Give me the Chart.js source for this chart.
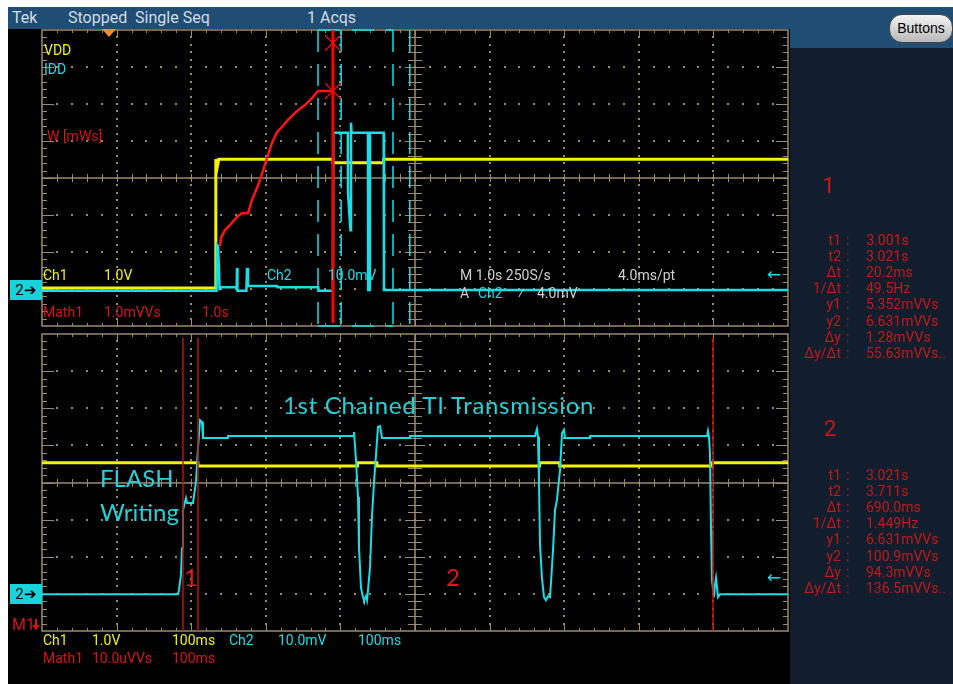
<!DOCTYPE html>
<html>
<head>
<meta charset="utf-8">
<script src="https://cdn.jsdelivr.net/npm/chart.js@4.4.1/dist/chart.umd.min.js"></script>
<style>
html, body { margin: 0; padding: 0; background: #fff; }
#scope { position: relative; width: 953px; height: 684px; overflow: hidden; background: #fff; }
#screen { position: absolute; left: 8px; top: 7px; width: 945px; height: 677px; background: #000; }
#header { position: absolute; left: 8px; top: 7px; width: 945px; height: 22px; background: #1f4d74; }
#side { position: absolute; left: 790px; top: 29px; width: 163px; height: 655px; background: #121e2d; }
#sidehead { position: absolute; left: 790px; top: 29px; width: 163px; height: 19px; background: #1f4d74; }
canvas { position: absolute; }
.t { position: absolute; white-space: nowrap; line-height: 1; font-family: Roboto, 'DejaVu Sans', sans-serif; font-size: 14px; }
.hd { color: #d5dce3; font-size: 16px; }
.y { color: #f2f200; }
.c { color: #18dde6; }
.r { color: #d81414; }
.g { color: #d0d0d0; }
.m { color: #c41818; }
.note { position: absolute; white-space: nowrap; line-height: 1; font-family: Lato, 'Open Sans', sans-serif; font-size: 24px; color: #26cfd6; }
.big { position: absolute; line-height: 1; font-family: Lato, sans-serif; font-size: 24px; color: #e01818; }
.gnd { position: absolute; left: 10px; width: 32px; height: 20px; background: #19d3db; color: #000;
       font-family: Roboto, sans-serif; font-size: 15px; line-height: 20px; text-align: center; }
#btn { position: absolute; left: 889px; top: 14px; width: 62px; height: 27px; border-radius: 13px;
       background: linear-gradient(#f4f4f4, #b8b8b8); border: 1px solid #444; color: #000;
       font-family: 'Liberation Sans', sans-serif; font-size: 14px; line-height: 27px; text-align: center; }
#trig { position: absolute; left: 102px; top: 29px; width: 0; height: 0;
        border-left: 7px solid transparent; border-right: 7px solid transparent; border-top: 8px solid #ff8a2a; }
#m1stem { position: absolute; left: 35px; top: 619px; width: 2px; height: 6px; background: #d81414; }
#m1head { position: absolute; left: 32px; top: 625px; width: 0; height: 0;
          border-left: 4px solid transparent; border-right: 4px solid transparent; border-top: 5px solid #d81414; }
.lab { position: absolute; width: 52px; text-align: right; }
</style>
</head>
<body>
<div id="scope">
  <div id="screen"></div>
  <div id="header"></div>
  <div id="side"></div>
  <div id="sidehead"></div>

  <div class="t hd" style="left:12px;top:10px">Tek</div>
  <div class="t hd" style="left:68px;top:10px">Stopped&nbsp; Single Seq</div>
  <div class="t hd" style="left:307px;top:10px">1 Acqs</div>
  <div id="btn">Buttons</div>

  <canvas id="topPanel" width="752" height="302" style="left:39px;top:27px"></canvas>
  <canvas id="bottomPanel" width="752" height="303" style="left:39px;top:331px"></canvas>
  <div id="trig"></div>

  <!-- top panel labels -->
  <div class="t y" style="left:44px;top:43px">VDD</div>
  <div class="t c" style="left:44px;top:62px">IDD</div>
  <div class="t r" style="left:47px;top:129px">W [mWs]</div>
  <div class="t y" style="left:43px;top:268px">Ch1</div>
  <div class="t y" style="left:104px;top:268px">1.0V</div>
  <div class="t c" style="left:267px;top:268px">Ch2</div>
  <div class="t c" style="left:328px;top:268px">10.0mV</div>
  <div class="t r" style="left:43px;top:305px">Math1</div>
  <div class="t r" style="left:104px;top:305px">1.0mVVs</div>
  <div class="t r" style="left:202px;top:305px">1.0s</div>
  <div class="t g" style="left:460px;top:268px">M 1.0s 250S/s</div>
  <div class="t g" style="left:618px;top:268px">4.0ms/pt</div>
  <div class="t g" style="left:460px;top:286px">A</div>
  <div class="t c" style="left:478px;top:286px">Ch2</div>
  <div class="t g" style="left:518px;top:286px">⁄</div>
  <div class="t g" style="left:537px;top:286px">4.0mV</div>
  <div class="t c" style="left:767px;top:266px;font-size:17px">←</div>

  <!-- bottom panel annotations -->
  <div class="note" style="left:283px;top:393px;letter-spacing:0.7px">1st Chained TI Transmission</div>
  <div class="note" style="left:100px;top:466px">FLASH</div>
  <div class="note" style="left:100px;top:500px">Writing</div>
  <div class="big" style="left:184px;top:565px">1</div>
  <div class="big" style="left:446px;top:565px">2</div>
  <div class="t c" style="left:767px;top:569px;font-size:17px">←</div>

  <div class="gnd" style="top:280px">2➔</div>
  <div class="gnd" style="top:584px">2➔</div>
  <div class="t r" style="left:12px;top:617px;font-size:16px">M1</div>
  <div id="m1stem"></div>
  <div id="m1head"></div>

  <!-- bottom readout -->
  <div class="t y" style="left:43px;top:633px">Ch1</div>
  <div class="t y" style="left:92px;top:633px">1.0V</div>
  <div class="t y" style="left:172px;top:633px">100ms</div>
  <div class="t c" style="left:229px;top:633px">Ch2</div>
  <div class="t c" style="left:278px;top:633px">10.0mV</div>
  <div class="t c" style="left:358px;top:633px">100ms</div>
  <div class="t r" style="left:43px;top:651px">Math1</div>
  <div class="t r" style="left:92px;top:651px">10.0uVVs</div>
  <div class="t r" style="left:172px;top:651px">100ms</div>

  <!-- cursor readouts -->
  <div class="t m" style="left:822px;top:175px;font-size:22px">1</div>
  <div class="t m" style="left:824px;top:418px;font-size:22px">2</div>
  <div id="read1"></div>
  <div id="read2"></div>
</div>

<script>
// ---- top panel: 1.0 s/div, vertical values in divisions ----
const vddTopT = [0, 2.33, 2.33, 2.35, 2.37, 3.90, 3.90, 4.58, 4.58, 10];
const vddTopY = [-2.97, -2.97, 0.51, 0.30, 0.51, 0.51, 0.41, 0.41, 0.51, 0.51];

const iddTopT = [0, 2.34, 2.346, 2.359, 2.372, 2.38, 2.386, 2.61, 2.614, 2.62, 2.74, 2.748, 2.761, 3.15, 3.155,
  3.70, 3.705, 3.90, 3.905, 4.10, 4.102, 4.135, 4.142, 4.15, 4.37, 4.372, 4.395, 4.397, 4.58, 4.584, 10];
const iddTopY = [-3.05, -3.05, -1.81, -1.85, -2.43, -3.0, -2.95, -2.95, -2.43, -3.05, -3.05, -2.43, -2.92, -2.92, -2.95,
  -2.95, -3.05, -3.05, 1.22, 1.22, -0.41, -1.41, 1.49, 1.22, 1.22, -3.03, -3.03, 1.22, 1.22, -3.03, -3.03];

const mathTopT = [2.386, 2.399, 2.453, 2.520, 2.614, 2.681, 2.761, 2.815, 2.882, 2.922, 3.016, 3.083, 3.150,
  3.217, 3.298, 3.391, 3.525, 3.619, 3.700, 3.901];
const mathTopY = [-1.84, -1.62, -1.41, -1.27, -1.05, -0.95, -0.95, -0.59, -0.27, -0.05, 0.54, 0.95, 1.24,
  1.38, 1.57, 1.76, 1.97, 2.16, 2.35, 2.35];

const cursorTopT = 3.90;
const cursorMarkY = [3.65, 2.35];
const zoomMarkT = [3.70, 4.01, 4.705, 4.93];

// ---- bottom panel: 100 ms/div ----
const vddBotT = [0, 209, 209, 423, 423, 449, 449, 667, 667, 694, 694, 898, 898, 1000];
const vddBotY = [0.53, 0.53, 0.445, 0.445, 0.53, 0.53, 0.445, 0.445, 0.53, 0.53, 0.445, 0.445, 0.53, 0.53];

const iddBotT = [0, 182.3, 183.6, 186.3, 187.7, 189.0, 193.0, 194.4, 202.4, 206.4,
  209.1, 211.8, 214.5, 215.8, 249.3, 249.4, 416.9, 418.2, 420.9, 423.6,
  424.9, 427.6, 430.3, 431.6, 434.3, 435.7, 437.0, 439.7, 442.4, 445.0,
  447.7, 450.4, 453.1, 455.8, 493.3, 493.4, 660.9, 663.5, 664.9, 666.2,
  667.6, 670.2, 672.9, 675.6, 678.3, 681.0, 683.6, 685.0, 687.7, 690.3,
  694.4, 697.1, 699.7, 701.1, 734.6, 734.7,
  891.4, 892.7, 894.1, 895.4, 896.8, 898.1, 900.8, 902.1, 903.5, 906.2, 908.8, 1000];
const iddBotY = [-3.01, -3.01, -2.90, -2.49, -1.77, -0.74, -0.42, -0.55, -0.55, 0.01,
  0.93, 1.68, 1.63, 1.20, 1.20, 1.25, 1.25, 1.36, 0.61, -0.39,
  -1.74, -2.84, -3.09, -3.17, -3.06, -3.17, -2.90, -2.28, -0.88, -0.01,
  0.74, 1.50, 1.52, 1.20, 1.20, 1.25, 1.25, 1.44, 1.23, -0.01,
  -1.68, -2.57, -3.09, -3.17, -3.06, -3.09, -2.28, -1.82, -0.74, -0.47,
  0.34, 1.33, 1.42, 1.20, 1.20, 1.25,
  1.25, 1.39, 1.23, 0.80, -1.28, -2.63, -3.09, -2.76, -2.57, -3.09, -3.01, -3.01];

const cursorBotT = [189.0, 209.1, 899.5];

// ---- cursor readouts ----
const readLabels = ['t1', 't2', 'Δt', '1/Δt', 'y1', 'y2', 'Δy', 'Δy/Δt'];
const read1Values = ['3.001s', '3.021s', '20.2ms', '49.5Hz', '5.352mVVs', '6.631mVVs', '1.28mVVs', '55.63mVVs..'];
const read2Values = ['3.021s', '3.711s', '690.0ms', '1.449Hz', '6.631mVVs', '100.9mVVs', '94.3mVVs', '136.5mVVs..'];

const TAN = '#9a8b6c';
const YELLOW = '#f4f400';
const CYAN = '#14e0e8';

function pts(xs, ys) {
    return xs.map((x, i) => ({ x: x, y: ys[i] }));
}

function buatReadout(id, values, top) {
    const box = document.getElementById(id);
    values.forEach((v, i) => {
        const y = top + i * 16.1 - 7;
        box.innerHTML += `<div class="t m lab" style="left:789px;top:${y}px">${readLabels[i]}</div>` +
            `<div class="t m" style="left:846px;top:${y}px">:</div>` +
            `<div class="t m" style="left:866px;top:${y}px">${v}</div>`;
    });
}
buatReadout('read1', read1Values, 240);
buatReadout('read2', read2Values, 475);

// graticule drawn from the chart scales
const graticule = {
    id: 'graticule',
    beforeDatasetsDraw(chart) {
        const { ctx, chartArea: a, scales: { x, y } } = chart;
        const step = (x.max - x.min) / 10;
        const px = v => Math.round(x.getPixelForValue(v));
        const py = v => Math.round(y.getPixelForValue(v));
        ctx.save();
        ctx.fillStyle = TAN;
        ctx.strokeStyle = TAN;
        // dotted grid
        for (let i = 1; i < 10; i++) {
            if (i === 5) continue;
            const gx = px(x.min + i * step);
            for (let k = 1; k < 40; k++) ctx.fillRect(gx - 1, py(-4 + k * 0.2) - 1, 2, 2);
        }
        for (let j = -3; j <= 3; j++) {
            if (j === 0) continue;
            const gy = py(j);
            for (let k = 1; k < 50; k++) ctx.fillRect(px(x.min + k * step / 5) - 1, gy - 1, 2, 2);
        }
        ctx.lineWidth = 1.5;
        ctx.beginPath();
        // border
        ctx.rect(a.left, a.top, a.right - a.left, a.bottom - a.top);
        // centre lines
        const cx = px(x.min + 5 * step), cy = py(0);
        ctx.moveTo(a.left, cy); ctx.lineTo(a.right, cy);
        ctx.moveTo(cx, a.top); ctx.lineTo(cx, a.bottom);
        ctx.stroke();
        ctx.lineWidth = 1;
        ctx.beginPath();
        for (let k = 1; k < 50; k++) {
            const tx = px(x.min + k * step / 5) + 0.5;
            const major = k % 5 === 0;
            const len = major ? 6 : 3;
            ctx.moveTo(tx, a.top); ctx.lineTo(tx, a.top + len);
            ctx.moveTo(tx, a.bottom); ctx.lineTo(tx, a.bottom - len);
            ctx.moveTo(tx, cy - 4); ctx.lineTo(tx, cy + 4);
        }
        for (let k = 1; k < 40; k++) {
            const ty = py(-4 + k * 0.2) + 0.5;
            const major = k % 5 === 0;
            const len = major ? 12 : 5;
            ctx.moveTo(a.left, ty); ctx.lineTo(a.left + len, ty);
            ctx.moveTo(a.right, ty); ctx.lineTo(a.right - len, ty);
            const cl = major ? 10 : 7;
            ctx.moveTo(cx - cl, ty); ctx.lineTo(cx + cl, ty);
        }
        ctx.stroke();
        ctx.restore();
    }
};

function buatPanel(id, xMax, datasets) {
    return new Chart(document.getElementById(id), {
        type: 'scatter',
        data: { datasets: datasets },
        options: {
            responsive: false,
            animation: false,
            events: [],
            layout: { padding: 3, autoPadding: false },
            scales: {
                x: { type: 'linear', min: 0, max: xMax, display: false },
                y: { type: 'linear', min: -4, max: 4, display: false }
            },
            plugins: { legend: { display: false }, tooltip: { enabled: false } },
            elements: { point: { radius: 0 }, line: { tension: 0 } }
        },
        plugins: [graticule]
    });
}

function garis(data, color, width, order, extra) {
    return Object.assign({ data: data, showLine: true, borderColor: color, backgroundColor: color,
        borderWidth: width, pointRadius: 0, order: order, clip: 4 }, extra || {});
}

const topSets = zoomMarkT.map(t => garis(pts([t, t], [4, -4]), CYAN, 1.5, 10, { borderDash: [22, 12] }));
topSets.push(garis(pts([zoomMarkT[0], zoomMarkT[2]], [4, 4]), CYAN, 1.5, 10, { borderDash: [22, 12] }));
topSets.push(garis(pts([zoomMarkT[0], zoomMarkT[2]], [-4, -4]), CYAN, 1.5, 10, { borderDash: [22, 12] }));
topSets.push(garis(pts(vddTopT, vddTopY), YELLOW, 3, 8));
topSets.push(garis(pts(iddTopT, iddTopY), CYAN, 2.5, 6));
topSets.push(garis(pts(mathTopT, mathTopY), '#ff1414', 2.5, 4));
topSets.push(garis(pts([cursorTopT, cursorTopT], [4, -3.92]), '#ff0000', 3, 3));
topSets.push({ data: pts([cursorTopT, cursorTopT], cursorMarkY), showLine: false, pointStyle: 'crossRot',
    pointRadius: 11, pointBorderWidth: 1.5, pointBorderColor: '#e01010', borderColor: '#e01010', order: 2, clip: 12 });
buatPanel('topPanel', 10, topSets);

const botSets = cursorBotT.map(t => garis(pts([t, t], [3.9, -4]), '#c01010', 1.5, 4));
botSets.push(garis(pts(vddBotT, vddBotY), YELLOW, 3, 8));
botSets.push(garis(pts(iddBotT, iddBotY), CYAN, 2, 6));
buatPanel('bottomPanel', 1000, botSets);
</script>
</body>
</html>
